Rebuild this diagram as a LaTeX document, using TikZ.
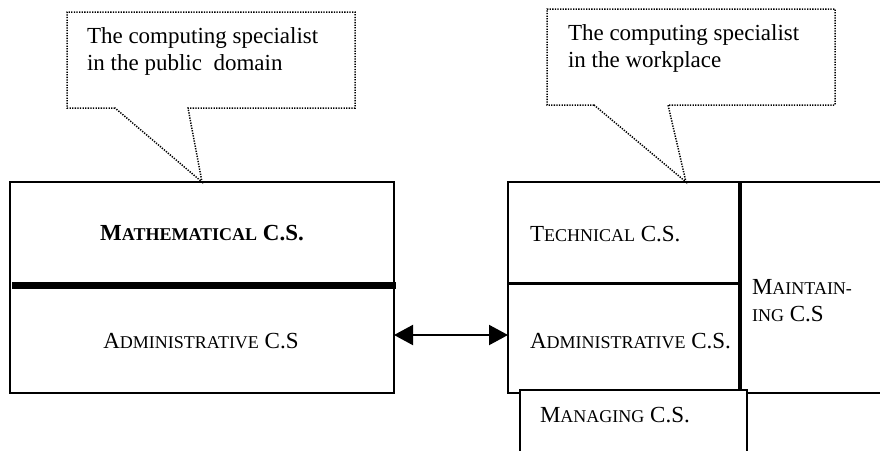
\documentclass[tikz,border=0pt]{standalone}
\usepackage{fontspec}
\setmainfont{Liberation Serif}
\usetikzlibrary{arrows.meta}
% fake small capitals: smaller upper-case letters
\newcommand\fsc[1]{{\fontsize{18}{20}\selectfont #1}}
\begin{document}
\begin{tikzpicture}[x=1pt,y=-1pt,
  every node/.style={inner sep=0pt,outer sep=0pt},
  lbl/.style={font=\fontsize{23}{27}\selectfont},
  note/.style={font=\fontsize{23}{27}\selectfont,align=left,anchor=base west},
  bubble/.style={line width=1.5pt,dash pattern=on 1.3pt off 1.3pt},
  frame/.style={draw,line width=2pt},
  link/.style={line width=2pt,{Triangle[length=19pt,width=20pt]}-{Triangle[length=19pt,width=20pt]}}]
\useasboundingbox (0,0) rectangle (880,450);
\clip (0,0) rectangle (880,450);

% public-domain block
\node[frame,minimum width=384pt,minimum height=211pt,anchor=north west] (pub) at (10,182) {};
\draw[line width=7pt] (12,285) -- (396,285);
\node[lbl,anchor=base] (math) at (202,240) {\textbf{M\fsc{ATHEMATICAL} C.S.}};
\node[lbl,anchor=base] (admL) at (201,348) {A\fsc{DMINISTRATIVE} C.S};

% workplace block
\node[frame,minimum width=232pt,minimum height=211pt,anchor=north west] (work) at (508,182) {};
\node[frame,minimum width=160pt,minimum height=211pt,anchor=north west] (maint) at (740,182) {};
\draw[line width=4pt] (work.north east) -- (work.south east);
\draw[line width=3pt] (work.west |- 0,283) -- (work.east |- 0,283);
\node[draw,line width=1.5pt,fill=white,minimum width=227pt,minimum height=80pt,anchor=north west] (mgr) at (520,390) {};
\node[lbl,anchor=base west] (tech) at (530,241) {T\fsc{ECHNICAL} C.S.};
\node[lbl,anchor=base west] (admR) at (530,348) {A\fsc{DMINISTRATIVE} C.S.};
% multi-line nodes: the base anchor sits on the last line
\node[lbl,anchor=base west,align=left] (mnt) at (752,321) {M\fsc{AINTAIN-}\\\fsc{ING} C.S};
\node[lbl,anchor=base west] (mng) at (540,422) {M\fsc{ANAGING} C.S.};

% two-way link
\draw[link] (pub.east |- 0,335) -- (work.west |- 0,335);

% speech bubbles
\coordinate (tipL) at (pub.north);
\coordinate (tipR) at (686,182);
\draw[bubble] (115,108) -- (67,108) -- (67,12) -- (355,12) -- (355,108) -- (188,108) -- (tipL) -- cycle;
\draw[bubble] (594,105) -- (547,105) -- (547,9) -- (835,9) -- (835,105) -- (668,105) -- (tipR) -- cycle;
\node[note] (noteL) at (87,70) {The computing specialist\\in the public\ \ domain};
\node[note] (noteR) at (568,67) {The computing specialist\\in the workplace};
\end{tikzpicture}
\end{document}
